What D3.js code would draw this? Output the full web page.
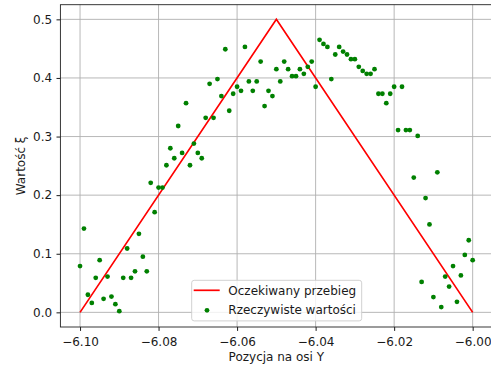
<!DOCTYPE html>
<html><head><meta charset="utf-8">
<script src="https://cdn.jsdelivr.net/npm/d3@7"></script>
<style>html,body{margin:0;padding:0;background:#fff;overflow:hidden}svg{display:block}</style>
</head><body>
<svg id="c" width="491" height="365"></svg>
<script>
// ---- data ----
const expectedX = [-6.10, -6.05, -6.00];
const expectedY = [0, 0.5, 0];
const measuredX = d3.range(101).map(i => +(-6.10 + i * 0.001).toFixed(3));
const measuredY = [
 0.079, 0.143, 0.030, 0.016, 0.059, 0.089, 0.023, 0.061, 0.027, 0.014,
 0.002, 0.059, 0.109, 0.059, 0.070, 0.134, 0.095, 0.070, 0.221, 0.171,
 0.213, 0.213, 0.251, 0.280, 0.263, 0.318, 0.272, 0.357, 0.251, 0.288,
 0.272, 0.263, 0.332, 0.390, 0.332, 0.398, 0.369, 0.449, 0.344, 0.373,
 0.385, 0.378, 0.453, 0.394, 0.378, 0.394, 0.428, 0.352, 0.378, 0.369,
 0.415, 0.394, 0.428, 0.415, 0.403, 0.403, 0.415, 0.407, 0.419, 0.428,
 0.385, 0.465, 0.458, 0.453, 0.398, 0.440, 0.453, 0.445, 0.440, 0.432,
 0.432, 0.419, 0.412, 0.407, 0.407, 0.415, 0.373, 0.373, 0.357, 0.373,
 0.385, 0.311, 0.385, 0.311, 0.311, 0.230, 0.301, 0.052, 0.195, 0.150,
 0.026, 0.239, 0.009, 0.061, 0.044, 0.079, 0.018, 0.063, 0.098, 0.123,
 0.089
];
const xTicks = [-6.10, -6.08, -6.06, -6.04, -6.02, -6.00];
const xTickLabels = ["−6.10", "−6.08", "−6.06", "−6.04", "−6.02", "−6.00"];
const yTicks = [0.0, 0.1, 0.2, 0.3, 0.4, 0.5];
const yTickLabels = ["0.0", "0.1", "0.2", "0.3", "0.4", "0.5"];
const legendLabels = ["Oczekiwany przebieg", "Rzeczywiste wartości"];
const xLabel = "Pozycja na osi Y";
const yLabel = "Wartość ξ";

// ---- layout ----
const L = 60.4, R = 492.3, T = 4.7, B = 327;
const font = "DejaVu Sans, sans-serif";
const fs = 12;
const ink = "#1a1a1a";
const svg = d3.select("#c");
const x = d3.scaleLinear().domain([-6.105, -5.995]).range([L, R]);
const y = d3.scaleLinear().domain([-0.025, 0.525]).range([B, T]);

// grid
const g = svg.append("g");
g.selectAll(".gx").data(xTicks).join("line")
  .attr("x1", d => x(d)).attr("x2", d => x(d)).attr("y1", T).attr("y2", B)
  .attr("stroke", "#b0b0b0").attr("stroke-width", 0.9);
g.selectAll(".gy").data(yTicks).join("line")
  .attr("y1", d => y(d)).attr("y2", d => y(d)).attr("x1", L).attr("x2", R)
  .attr("stroke", "#b0b0b0").attr("stroke-width", 0.9);

// expected line
const line = d3.line().x((d, i) => x(expectedX[i])).y((d, i) => y(expectedY[i]));
svg.append("path").datum(expectedX).attr("d", line)
  .attr("fill", "none").attr("stroke", "#ff0000").attr("stroke-width", 1.7);

// measured points
svg.append("g").selectAll("circle").data(measuredY).join("circle")
  .attr("cx", (d, i) => x(measuredX[i])).attr("cy", d => y(d))
  .attr("r", 2.4).attr("fill", "#008000");

// axes
const xAxis = d3.axisBottom(x).tickValues(xTicks).tickFormat((d, i) => xTickLabels[i])
  .tickSize(3.9).tickPadding(3.9);
const yAxis = d3.axisLeft(y).tickValues(yTicks).tickFormat((d, i) => yTickLabels[i])
  .tickSize(3.9).tickPadding(4.3);
const ax = svg.append("g").attr("transform", `translate(0,${B})`).call(xAxis);
const ay = svg.append("g").attr("transform", `translate(${L},0)`).call(yAxis);
[ax, ay].forEach(a => {
  a.select(".domain").remove();
  a.selectAll("line").attr("stroke", "#000").attr("stroke-width", 0.9);
  a.selectAll("text").attr("font-family", font).attr("font-size", fs).attr("fill", ink);
});
ax.selectAll("text").attr("dy", "0.93em");

// spines
svg.append("rect").attr("x", L).attr("y", T).attr("width", R - L).attr("height", B - T)
  .attr("fill", "none").attr("stroke", "#222").attr("stroke-width", 0.9);

// labels
svg.append("text").attr("x", (L + R) / 2).attr("y", 360.5).attr("text-anchor", "middle")
  .attr("font-family", font).attr("font-size", fs).attr("fill", ink).text(xLabel);
svg.append("text").attr("transform", `translate(25,${(T + B) / 2}) rotate(-90)`)
  .attr("text-anchor", "middle").attr("font-family", font).attr("font-size", fs)
  .attr("fill", ink).text(yLabel);

// legend
const lg = svg.append("g");
const lx = 191.7, ly = 280.3, lw = 170, lh = 40.6;
lg.append("rect").attr("x", lx).attr("y", ly).attr("width", lw).attr("height", lh)
  .attr("rx", 2.5).attr("fill", "#fff").attr("fill-opacity", 0.8)
  .attr("stroke", "#cccccc").attr("stroke-width", 0.9);
lg.append("line").attr("x1", lx + 2).attr("x2", lx + 28).attr("y1", 290.3).attr("y2", 290.3)
  .attr("stroke", "#ff0000").attr("stroke-width", 1.7);
lg.append("circle").attr("cx", lx + 15.3).attr("cy", 310.3).attr("r", 2.4).attr("fill", "#008000");
lg.selectAll("text").data(legendLabels).join("text")
  .attr("x", lx + 36.6).attr("y", (d, i) => 290.3 + i * 19.5).attr("dy", "0.36em")
  .attr("font-family", font).attr("font-size", fs).attr("fill", ink).text(d => d);
</script>
</body></html>
